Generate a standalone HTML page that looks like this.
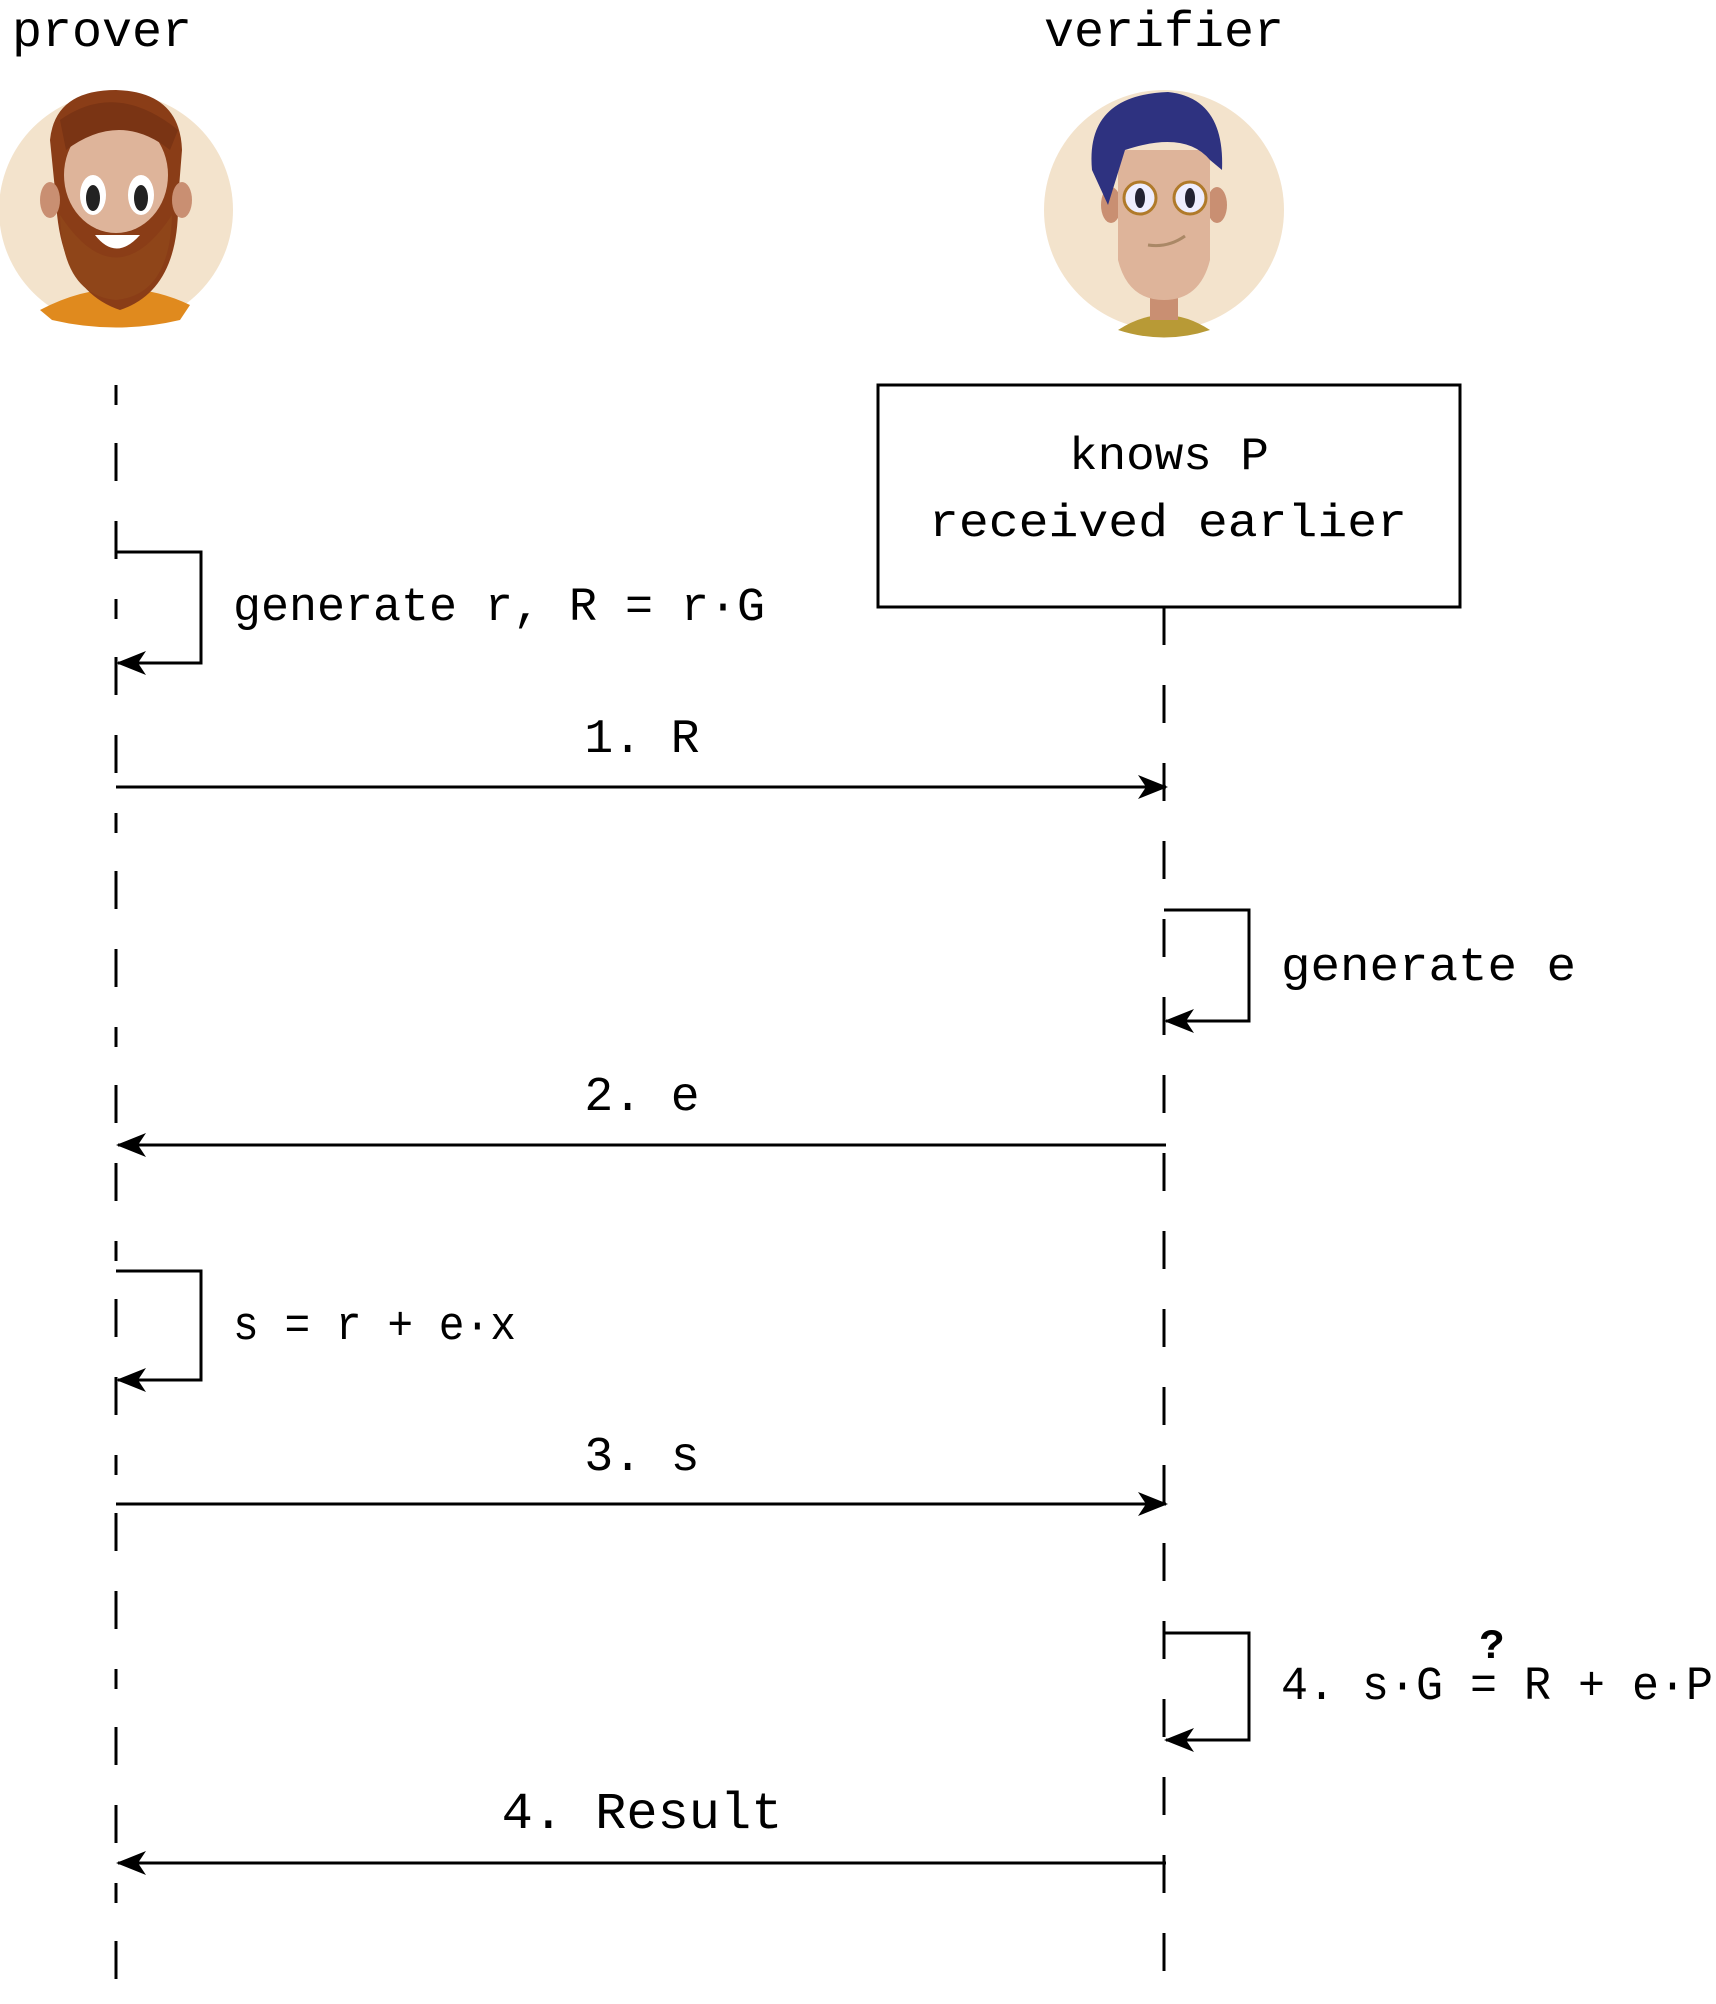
<!DOCTYPE html>
<html><head><meta charset="utf-8"><style>
html,body{margin:0;padding:0;background:#fff}
svg text{font-family:"Liberation Mono",monospace;fill:#000}
</style></head><body>
<svg width="1716" height="1999" viewBox="0 0 1716 1999" xmlns="http://www.w3.org/2000/svg">
<defs>
<marker id="ah" markerWidth="30" markerHeight="24" refX="28" refY="12" orient="auto" markerUnits="userSpaceOnUse">
<path d="M0,0 L30,12 L0,24 L8,12 Z" fill="#000"/>
</marker>
</defs>
<text x="12" y="46" font-size="50">prover</text>
<text x="1164" y="46" font-size="50" text-anchor="middle">verifier</text>

<!-- prover avatar -->
<circle cx="116" cy="210" r="117" fill="#f3e3cc"/>
<path d="M40,310 Q116,270 190,305 L180,320 Q116,335 52,320 Z" fill="#e08a1e"/>
<path d="M50,140 Q55,90 116,90 Q180,92 182,150 L178,200 Q180,290 120,310 Q60,290 56,200 Z" fill="#8a3d17"/>
<ellipse cx="116" cy="175" rx="52" ry="58" fill="#deb49a"/>
<path d="M60,120 Q116,80 178,130 L170,150 Q120,110 66,150 Z" fill="#7a3414"/>
<ellipse cx="93" cy="195" rx="13" ry="20" fill="#fff"/><ellipse cx="93" cy="198" rx="7" ry="13" fill="#222"/>
<ellipse cx="141" cy="195" rx="13" ry="20" fill="#fff"/><ellipse cx="141" cy="198" rx="7" ry="13" fill="#222"/>
<path d="M60,215 Q116,300 172,215 Q170,295 116,300 Q62,295 60,215Z" fill="#8f4519"/>
<path d="M95,235 Q116,262 140,235 Z" fill="#fff"/>
<ellipse cx="50" cy="200" rx="10" ry="18" fill="#c98f72"/><ellipse cx="182" cy="200" rx="10" ry="18" fill="#c98f72"/>

<!-- verifier avatar -->
<circle cx="1164" cy="210" r="120" fill="#f3e3cc"/>
<path d="M1118,330 Q1164,300 1210,330 Q1164,345 1118,330Z" fill="#b89a36"/>
<rect x="1150" y="280" width="28" height="40" fill="#c98f72"/>
<ellipse cx="1111" cy="205" rx="10" ry="18" fill="#c98f72"/><ellipse cx="1217" cy="205" rx="10" ry="18" fill="#c98f72"/>
<path d="M1118,150 L1210,150 L1210,260 Q1200,300 1164,300 Q1128,300 1118,260 Z" fill="#deb49a"/>
<path d="M1092,170 Q1085,95 1168,92 Q1225,98 1222,170 L1210,160 Q1185,130 1125,150 L1108,205 Z" fill="#2e3280"/>
<circle cx="1140" cy="198" r="16" fill="#eef" stroke="#b07a2a" stroke-width="3"/>
<circle cx="1190" cy="198" r="16" fill="#eef" stroke="#b07a2a" stroke-width="3"/>
<ellipse cx="1140" cy="198" rx="5" ry="10" fill="#223"/><ellipse cx="1190" cy="198" rx="5" ry="10" fill="#223"/>
<path d="M1148,245 Q1168,248 1185,236" stroke="#a86" stroke-width="3" fill="none"/>

<!-- lifelines -->
<line x1="116" y1="385" x2="116" y2="1999" stroke="#000" stroke-width="3" stroke-dasharray="20 38 38 40 38 40" />
<line x1="1164" y1="607" x2="1164" y2="1999" stroke="#000" stroke-width="3" stroke-dasharray="38 40"/>

<rect x="878" y="385" width="582" height="222" fill="#fff" stroke="#000" stroke-width="3"/>
<text x="1069" y="469" font-size="46" textLength="200" lengthAdjust="spacingAndGlyphs">knows P</text>
<text x="929" y="536" font-size="46" textLength="478" lengthAdjust="spacingAndGlyphs">received earlier</text>

<g stroke="#000" stroke-width="3" fill="none">
<polyline points="116,552 201,552 201,663 118,663" marker-end="url(#ah)"/>
<line x1="116" y1="787" x2="1166" y2="787" marker-end="url(#ah)"/>
<polyline points="1164,910 1249,910 1249,1021 1166,1021" marker-end="url(#ah)"/>
<line x1="1166" y1="1145" x2="118" y2="1145" marker-end="url(#ah)"/>
<polyline points="116,1271 201,1271 201,1380 118,1380" marker-end="url(#ah)"/>
<line x1="116" y1="1504" x2="1166" y2="1504" marker-end="url(#ah)"/>
<polyline points="1164,1633 1249,1633 1249,1740 1166,1740" marker-end="url(#ah)"/>
<line x1="1166" y1="1863" x2="118" y2="1863" marker-end="url(#ah)"/>
</g>

<text x="233" y="620" font-size="47" textLength="532" lengthAdjust="spacingAndGlyphs">generate r, R = r·G</text>
<text x="642" y="752" font-size="48" text-anchor="middle">1. R</text>
<text x="1281" y="980" font-size="47" textLength="295" lengthAdjust="spacingAndGlyphs">generate e</text>
<text x="642" y="1110" font-size="48" text-anchor="middle">2. e</text>
<text x="233" y="1339" font-size="47" textLength="283" lengthAdjust="spacingAndGlyphs">s = r + e·x</text>
<text x="642" y="1470" font-size="48" text-anchor="middle">3. s</text>
<text x="1281" y="1699" font-size="47" textLength="432" lengthAdjust="spacingAndGlyphs">4. s·G = R + e·P</text>
<text x="1492" y="1658" font-size="42" text-anchor="middle" font-weight="bold">?</text>
<text x="642" y="1828" font-size="52" text-anchor="middle">4. Result</text>
</svg>
</body></html>
